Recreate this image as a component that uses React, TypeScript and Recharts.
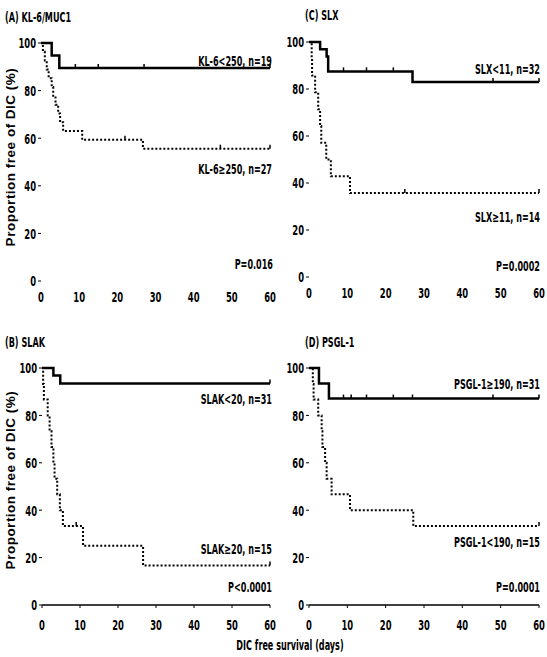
// Kaplan-Meier curves, 4 panels (DIC free survival)
import { LineChart, Line, XAxis, YAxis } from "recharts";

// x / y axis ticks
const xTicks = [0, 10, 20, 30, 40, 50, 60];
const yTicks = [0, 20, 40, 60, 80, 100];

// (A) KL-6/MUC1
const klLowTimes = [0, 2.8, 4.8, 60];
const klLowSurv = [100, 94.7, 89.5, 89.5];
const klLowCensor = [9, 15, 27, 60];
const klHighTimes = [0, 0.5, 1.0, 1.5, 2.0, 2.8, 3.2, 3.8, 4.5, 5.0, 5.8, 10.8, 26.7, 60];
const klHighSurv = [100, 96.3, 92.6, 88.9, 85.2, 81.5, 77.8, 74.1, 70.4, 66.7, 63.0, 59.3, 55.6, 55.6];
const klHighCensor = [22, 47, 60];

// (C) SLX
const slxLowTimes = [0, 2.9, 4.6, 5.0, 27, 60];
const slxLowSurv = [100, 96.9, 93.8, 87.5, 83.0, 83.0];
const slxLowCensor = [9, 15, 22, 48, 60];
const slxHighTimes = [0, 0.7, 0.8, 1.6, 2.4, 2.9, 3.2, 4.5, 5.7, 10.7, 60];
const slxHighSurv = [100, 92.9, 85.7, 78.6, 71.4, 64.3, 57.1, 50.0, 42.9, 35.7, 35.7];
const slxHighCensor = [25, 60];

// (B) SLAK
const slakLowTimes = [0, 3.0, 4.8, 60];
const slakLowSurv = [100, 96.8, 93.5, 93.5];
const slakLowCensor = [60];
const slakHighTimes = [0, 0.3, 0.5, 1.5, 2.0, 2.5, 3.0, 3.3, 4.0, 4.7, 5.5, 10.8, 26.6, 60];
const slakHighSurv = [100, 93.3, 86.7, 80.0, 73.3, 66.7, 60.0, 53.3, 46.7, 40.0, 33.3, 25.0, 16.7, 16.7];
const slakHighCensor = [9, 60];

// (D) PSGL-1
const psglHighTimes = [0, 2.6, 5.2, 60];
const psglHighSurv = [100, 93.5, 87.1, 87.1];
const psglHighCensor = [9, 11, 15, 22, 27, 48, 60];
const psglLowTimes = [0, 1.0, 1.2, 2.4, 3.3, 3.5, 4.2, 4.6, 5.9, 10.7, 27.2, 60];
const psglLowSurv = [100, 93.3, 86.7, 80.0, 73.3, 66.7, 60.0, 53.3, 46.7, 40.0, 33.3, 33.3];
const psglLowCensor = [60];

type Pt = { t: number; s: number; c: boolean };

// 生存曲線の点 + 打ち切り点をまとめる
function curve(times: number[], surv: number[], censor: number[]): Pt[] {
  const pts: Pt[] = times.map((t, i) => ({ t, s: surv[i], c: false }));
  censor.forEach((ct) => {
    let s = surv[0];
    times.forEach((t, i) => {
      if (t <= ct) s = surv[i];
    });
    pts.push({ t: ct, s, c: true });
  });
  return pts.sort((a, b) => a.t - b.t || (a.c ? 1 : -1));
}

const FONT = "'DejaVu Sans Condensed', 'DejaVu Sans', sans-serif";
const SQUEEZE = 0.72; // 細長いフォントに見せる

// censor tick
const CensorDot = (props: any) => {
  const { cx, cy, payload } = props;
  if (!payload || !payload.c) return <g />;
  return <line x1={cx} x2={cx} y1={cy - 4} y2={cy} stroke="#000" strokeWidth={1.5} />;
};

// 縦長の目盛りラベル
const XTick = (props: any) => {
  const { x, y, payload } = props;
  return (
    <text transform={`translate(${x},${y}) scale(${SQUEEZE},1.15)`} textAnchor="middle" dy="0.75em"
      fontSize={13} fontWeight={700} fontFamily={FONT} fill="#000">
      {payload.value}
    </text>
  );
};
const YTick = (props: any) => {
  const { x, y, payload } = props;
  return (
    <text transform={`translate(${x},${y}) scale(${SQUEEZE},1.15)`} textAnchor="end" dy="0.36em"
      fontSize={13} fontWeight={700} fontFamily={FONT} fill="#000">
      {payload.value}
    </text>
  );
};

type PanelProps = {
  left: number;
  top: number;
  width: number;
  height: number;
  x0: number;
  x1: number;
  yTop: number;
  yBottom: number;
  axisLine: boolean;
  solid: Pt[];
  dotted: Pt[];
};

function Panel(p: PanelProps) {
  const yW = p.x0 - p.left;
  const xH = 30;
  return (
    <div style={{ position: "absolute", left: p.left, top: p.top }}>
      <LineChart
        width={p.width}
        height={p.height}
        margin={{
          top: p.yTop - p.top,
          right: p.left + p.width - p.x1,
          left: 0,
          bottom: p.top + p.height - p.yBottom - xH,
        }}
      >
        <XAxis
          type="number"
          dataKey="t"
          domain={[0, 60]}
          ticks={xTicks}
          height={xH}
          axisLine={p.axisLine ? { stroke: "#000", strokeWidth: 1.5 } : false}
          tickLine={p.axisLine ? { stroke: "#000" } : false}
          tickSize={p.axisLine ? 3 : 6}
          tickMargin={p.axisLine ? 11 : 4}
          tick={<XTick />}
          allowDuplicatedCategory={false}
        />
        <YAxis
          type="number"
          domain={[0, 100]}
          ticks={yTicks}
          width={yW}
          axisLine={false}
          tickLine={{ stroke: "#000" }}
          tickSize={3}
          tickMargin={2}
          tick={<YTick />}
        />
        <Line
          data={p.dotted}
          dataKey="s"
          type="stepAfter"
          stroke="#000"
          strokeWidth={2}
          strokeDasharray="2 2"
          dot={<CensorDot />}
          activeDot={false}
          isAnimationActive={false}
        />
        <Line
          data={p.solid}
          dataKey="s"
          type="stepAfter"
          stroke="#000"
          strokeWidth={2.5}
          dot={<CensorDot />}
          activeDot={false}
          isAnimationActive={false}
        />
      </LineChart>
    </div>
  );
}

// HTML text label: align = "l" (left edge at x) or "r" (right edge at x) or "c"
function Txt({ x, y, align, children, size = 12.5 }: { x: number; y: number; align: string; children: any; size?: number }) {
  const tx = align === "r" ? "-100%" : align === "c" ? "-50%" : "0";
  const origin = align === "r" ? "right center" : align === "c" ? "center center" : "left center";
  return (
    <div style={{ position: "absolute", left: x, top: y, transform: `translate(${tx}, -50%)` }}>
      <div
        style={{
          transform: `scale(${SQUEEZE}, 1.1)`,
          transformOrigin: origin,
          whiteSpace: "nowrap",
          fontFamily: FONT,
          fontWeight: 700,
          fontSize: size,
          color: "#000",
          lineHeight: 1,
        }}
      >
        {children}
      </div>
    </div>
  );
}

function YLabel({ x, y }: { x: number; y: number }) {
  return (
    <div
      style={{
        position: "absolute",
        left: x,
        top: y,
        transform: "translate(-50%, -50%) rotate(-90deg)",
        whiteSpace: "nowrap",
        fontFamily: "'Liberation Sans', Arial, sans-serif",
        fontWeight: 700,
        fontSize: 13.5,
        letterSpacing: 0.5,
        color: "#000",
        lineHeight: 1,
      }}
    >
      Proportion free of DIC (%)
    </div>
  );
}

export default function App() {
  return (
    <div style={{ position: "absolute", left: 0, top: 0, width: 547, height: 657, background: "#fff" }}>
      <Panel left={0} top={0} width={285} height={320} x0={41} x1={270} yTop={43} yBottom={281} axisLine={false}
        solid={curve(klLowTimes, klLowSurv, klLowCensor)} dotted={curve(klHighTimes, klHighSurv, klHighCensor)} />
      <Panel left={275} top={0} width={272} height={320} x0={309} x1={539} yTop={42} yBottom={277} axisLine={false}
        solid={curve(slxLowTimes, slxLowSurv, slxLowCensor)} dotted={curve(slxHighTimes, slxHighSurv, slxHighCensor)} />
      <Panel left={0} top={325} width={285} height={320} x0={42} x1={270} yTop={368} yBottom={605} axisLine={true}
        solid={curve(slakLowTimes, slakLowSurv, slakLowCensor)} dotted={curve(slakHighTimes, slakHighSurv, slakHighCensor)} />
      <Panel left={275} top={325} width={272} height={320} x0={309} x1={539} yTop={368} yBottom={605} axisLine={true}
        solid={curve(psglHighTimes, psglHighSurv, psglHighCensor)} dotted={curve(psglLowTimes, psglLowSurv, psglLowCensor)} />

      <Txt x={5} y={18} align="l">(A) KL-6/MUC1</Txt>
      <Txt x={305} y={16} align="l">(C) SLX</Txt>
      <Txt x={5} y={343} align="l">(B) SLAK</Txt>
      <Txt x={305} y={343} align="l">(D) PSGL-1</Txt>

      <Txt x={272} y={62} align="r">KL-6&lt;250, n=19</Txt>
      <Txt x={272} y={170} align="r">KL-6≥250, n=27</Txt>
      <Txt x={273} y={265} align="r">P=0.016</Txt>

      <Txt x={540} y={70} align="r">SLX&lt;11, n=32</Txt>
      <Txt x={540} y={218} align="r">SLX≥11, n=14</Txt>
      <Txt x={540} y={267} align="r">P=0.0002</Txt>

      <Txt x={272} y={400} align="r">SLAK&lt;20, n=31</Txt>
      <Txt x={272} y={550} align="r">SLAK≥20, n=15</Txt>
      <Txt x={272} y={588} align="r">P&lt;0.0001</Txt>

      <Txt x={540} y={385} align="r">PSGL-1≥190, n=31</Txt>
      <Txt x={540} y={543} align="r">PSGL-1&lt;190, n=15</Txt>
      <Txt x={540} y={588} align="r">P=0.0001</Txt>

      <YLabel x={11} y={157} />
      <YLabel x={11} y={480} />
      <Txt x={290} y={646} align="c">DIC free survival (days)</Txt>
    </div>
  );
}
